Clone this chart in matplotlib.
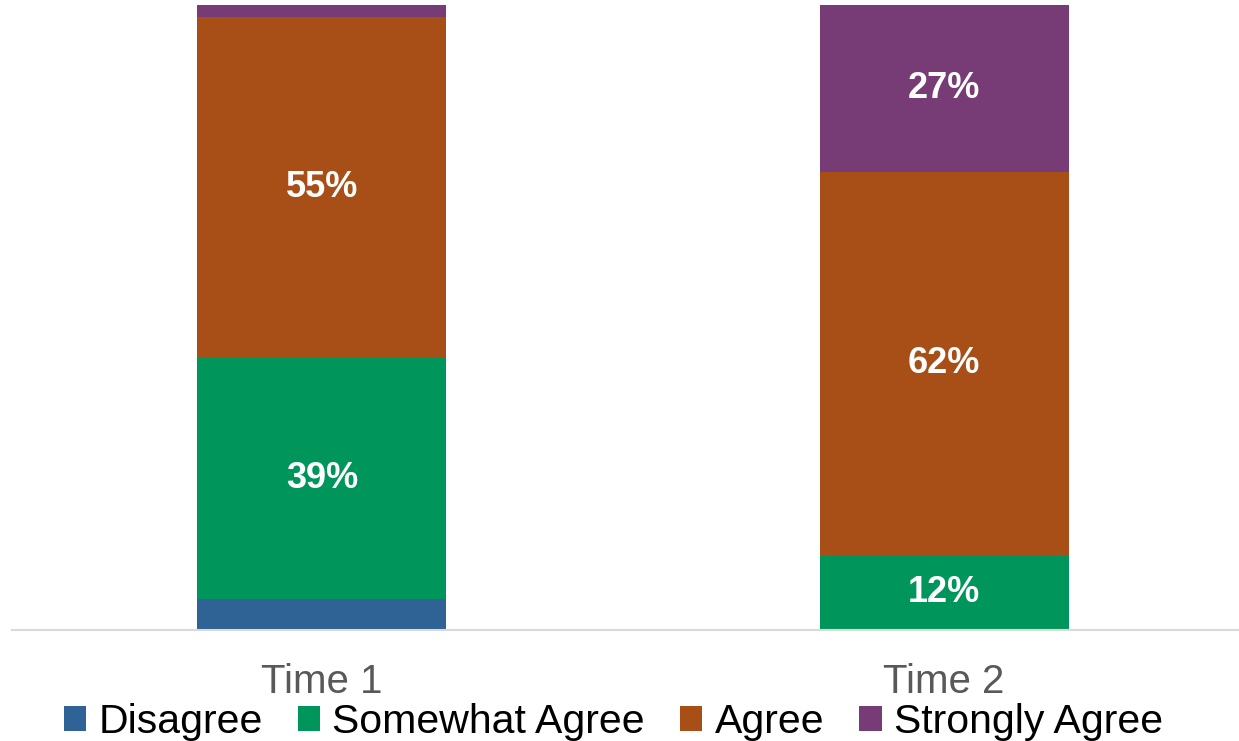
import matplotlib.pyplot as plt
import numpy as np

plt.rcParams['font.family'] = ['Liberation Sans', 'DejaVu Sans']

# values (percent)
times = ["Time 1", "Time 2"]
disagree = [5, 0]
somewhat = [39, 12]
agree = [55, 62]
strongly = [2, 27]

series = [("Disagree", disagree, "#2F6295"),
          ("Somewhat Agree", somewhat, "#00965B"),
          ("Agree", agree, "#A84E17"),
          ("Strongly Agree", strongly, "#773B76")]

fig = plt.figure(figsize=(12.39, 7.41), dpi=100)
ax = fig.add_axes([12 / 1239, 111 / 741, 1 - 12 / 1239, 625 / 741])

x = np.arange(len(times))
bottom = np.zeros(len(times))
for name, vals, col in series:
    vals = np.array(vals, dtype=float)
    ax.bar(x, vals, 0.4, bottom=bottom, color=col, label=name)
    # only label the big segments
    for xi, v, b in zip(x, vals, bottom):
        if v >= 10:
            ax.text(xi, b + v / 2, f"{v:.0f}%", ha="center", va="center",
                    color="white", fontsize=26, fontweight="bold")
    bottom += vals

ax.set_xlim(-0.498, 1.474)
ax.set_ylim(0, bottom.max())
ax.set_xticks(x)
ax.set_xticklabels(times, fontsize=29, color="#595959")
ax.tick_params(axis="x", length=0, pad=24)
ax.set_yticks([])
for s in ["top", "left", "right"]:
    ax.spines[s].set_visible(False)
ax.spines["bottom"].set_color("#D9D9D9")
ax.spines["bottom"].set_linewidth(1.5)

fig.legend(loc="lower center", bbox_to_anchor=(0.495, -0.022), ncol=4, frameon=False,
           fontsize=29.5, handlelength=0.55, handleheight=0.55, handletextpad=0.3,
           columnspacing=0.85, borderaxespad=0)

fig.savefig("out.png", dpi=100)
